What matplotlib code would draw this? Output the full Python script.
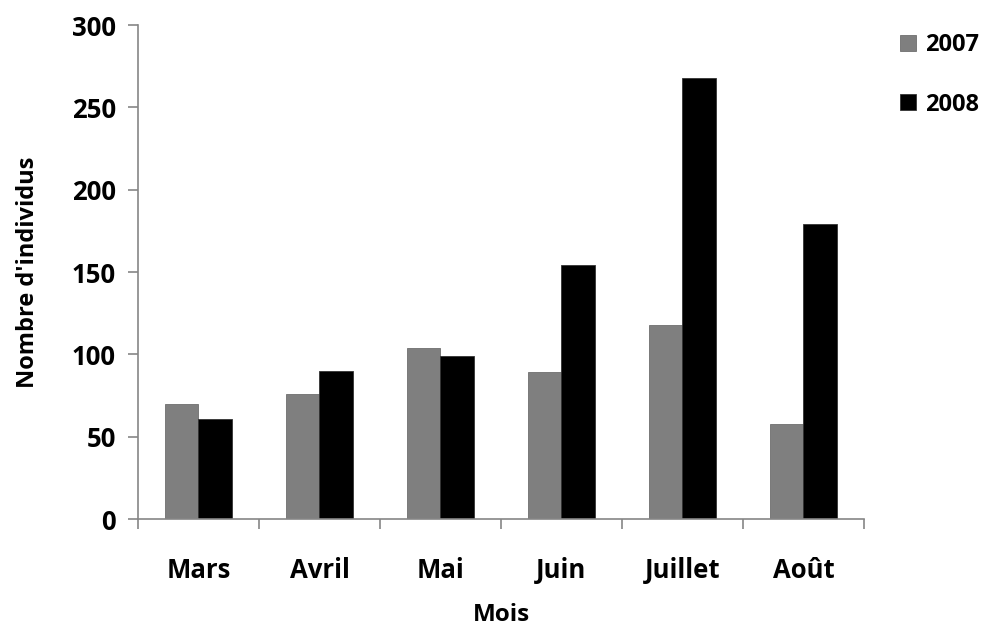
import numpy as np
from matplotlib import pyplot as plt
from matplotlib.ticker import FixedLocator

mois = ["Mars", "Avril", "Mai", "Juin", "Juillet", "Août"]
v2007 = [70, 76, 104, 89, 118, 58]
v2008 = [61, 90, 99, 154, 268, 179]
yticks = [0, 50, 100, 150, 200, 250, 300]

plt.rcParams['font.family'] = ['Open Sans', 'DejaVu Sans']
plt.rcParams['font.weight'] = 'bold'

fig = plt.figure(figsize=(9.89, 6.27), dpi=100)
ax = fig.add_axes([0.1395, 0.1722, 0.7341, 0.7879])

x = np.arange(len(mois))
w = 0.28
ax.bar(x - w / 2, v2007, w, color="#7f7f7f", edgecolor="#6f6f6f", linewidth=0.6, label="2007")
ax.bar(x + w / 2, v2008, w, color="#000000", edgecolor="#333333", linewidth=0.6, label="2008")

ax.set_xlim(-0.5, len(mois) - 0.5)
ax.set_ylim(0, 300)
ax.set_yticks(yticks)
ax.set_xticks(x)
ax.set_xticklabels(mois)
ax.xaxis.set_minor_locator(FixedLocator(np.arange(-0.5, len(mois), 1.0)))

for s in ["top", "right"]:
    ax.spines[s].set_visible(False)
for s in ["left", "bottom"]:
    ax.spines[s].set_color("#868686")
    ax.spines[s].set_linewidth(1.2)

ax.tick_params(axis="x", which="major", length=0, pad=27, labelsize=18.5)
ax.tick_params(axis="x", which="minor", length=7, width=1.2, color="#868686", direction="out")
ax.tick_params(axis="y", length=7, width=1.2, color="#868686", pad=9, labelsize=18.5)

ax.set_xlabel("Mois", fontsize=17.5, fontweight="bold", labelpad=14)
ax.set_ylabel("Nombre d'individus", fontsize=17, fontweight="bold", labelpad=23)

fig.legend(loc="upper left", bbox_to_anchor=(0.889, 0.981), frameon=False,
           handlelength=0.65, handleheight=0.65, handletextpad=0.4,
           labelspacing=1.5, prop={"weight": "bold", "size": 17})

fig.savefig("out.png", dpi=100)
